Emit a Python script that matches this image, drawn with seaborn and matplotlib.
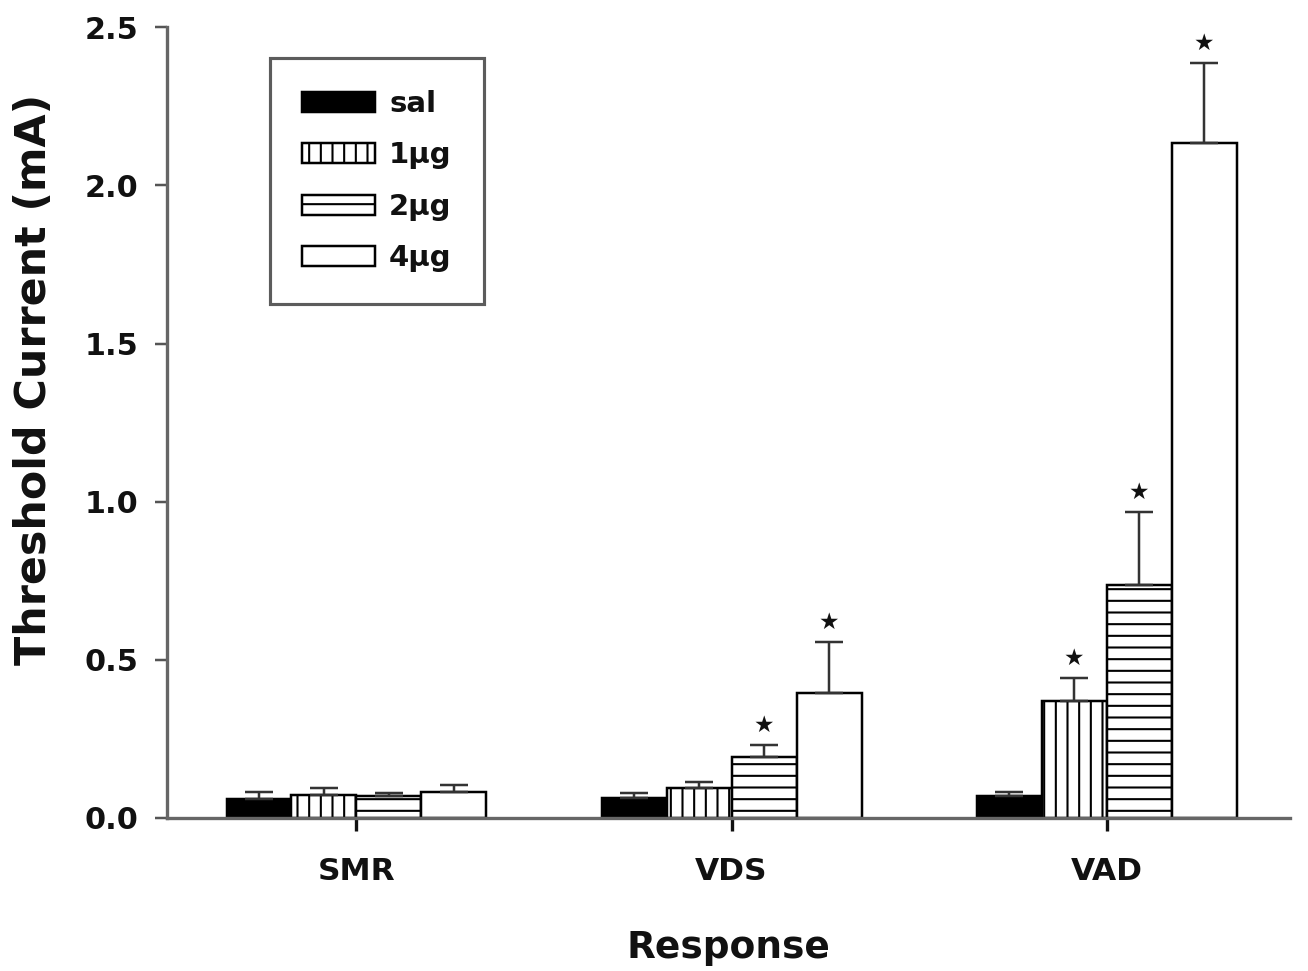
import matplotlib
matplotlib.use("Agg")
import matplotlib.pyplot as plt
import seaborn as sns
import pandas as pd
from matplotlib.ticker import FormatStrFormatter

responses = ["SMR", "VDS", "VAD"]
doses = ["sal", "1µg", "2µg", "4µg"]
sal = [0.060, 0.063, 0.070]
ug1 = [0.073, 0.095, 0.370]
ug2 = [0.068, 0.193, 0.735]
ug4 = [0.082, 0.395, 2.133]
sem_sal = [0.022, 0.017, 0.012]
sem_ug1 = [0.022, 0.020, 0.073]
sem_ug2 = [0.012, 0.037, 0.232]
sem_ug4 = [0.022, 0.161, 0.253]
sig_sal = [False, False, False]
sig_ug1 = [False, False, True]
sig_ug2 = [False, True, True]
sig_ug4 = [False, True, True]

means = [sal, ug1, ug2, ug4]
sems = [sem_sal, sem_ug1, sem_ug2, sem_ug4]
sigs = [sig_sal, sig_ug1, sig_ug2, sig_ug4]

rows = []
for d, vals in zip(doses, means):
    for r, v in zip(responses, vals):
        rows.append({"Response": r, "Dose": d, "value": v})
df = pd.DataFrame(rows)

DPI = 140
K = 150 / DPI  # keep pixel sizes tuned at 150 dpi

sns.set_style("white")
plt.rcParams["font.family"] = ["DejaVu Sans"]
plt.rcParams["font.weight"] = "bold"
plt.rcParams["hatch.linewidth"] = 1.0 * K
plt.rcParams["text.color"] = "#111111"
plt.rcParams["axes.labelcolor"] = "#111111"
plt.rcParams["xtick.labelcolor"] = "#111111"
plt.rcParams["ytick.labelcolor"] = "#111111"

fig = plt.figure(figsize=(1308 / DPI, 971 / DPI), dpi=DPI)
ax = fig.add_axes([0.128, 0.1576, 0.858, 0.8144])

fills = ["black", "white", "white", "white"]
hatches = [None, "||", "--", None]
sns.barplot(data=df, x="Response", y="value", hue="Dose", order=responses,
            hue_order=doses, palette=fills, width=0.693, gap=0,
            edgecolor="black", linewidth=1.2 * K, errorbar=None, ax=ax,
            legend=False, saturation=1)

bar_containers = list(ax.containers)
for cont, h, sd, sg in zip(bar_containers, hatches, sems, sigs):
    for p, e, s in zip(cont.patches, sd, sg):
        if h:
            p.set_hatch(h)
        xc = p.get_x() + p.get_width() / 2
        top = p.get_height()
        ax.errorbar([xc], [top], yerr=[[0], [e]], fmt="none", ecolor="#333333",
                    elinewidth=1.2 * K, capsize=6.5 * K, capthick=1.2 * K, zorder=1)
        if s:
            ax.annotate("★", xy=(xc, top + e), xytext=(0, 9.5 * K), textcoords="offset points",
                        ha="center", va="center", fontsize=11 * K,
                        color="#111111")

leg = ax.legend(handles=[c.patches[0] for c in bar_containers], labels=doses,
                loc="upper left", bbox_to_anchor=(0.091, 0.961), fontsize=14 * K,
                frameon=True, fancybox=False, edgecolor="#333333",
                handlelength=2.5, handleheight=0.68, handletextpad=0.5,
                labelspacing=0.8, borderpad=1.1, borderaxespad=0)
leg.get_frame().set_linewidth(1.5 * K)
for t in leg.get_texts():
    t.set_fontweight("bold")
    t.set_color("#111111")

ax.set_ylim(0, 2.5)
ax.set_xlim(-0.504, 2.488)
ax.set_yticks([0, 0.5, 1.0, 1.5, 2.0, 2.5])
ax.yaxis.set_major_formatter(FormatStrFormatter("%.1f"))
ax.set_ylabel("Threshold Current (mA)", fontsize=20.5 * K, fontweight="bold")
ax.yaxis.set_label_coords(-0.100, 0.554)
ax.set_xlabel("Response", fontsize=18 * K, fontweight="bold", labelpad=21 * K)

for side in ["top", "right"]:
    ax.spines[side].set_visible(False)
for side in ["left", "bottom"]:
    ax.spines[side].set_color("#666666")
    ax.spines[side].set_linewidth(1.6 * K)

ax.tick_params(axis="y", which="major", direction="out", length=6 * K, width=1.2 * K,
               color="#555555", left=True, labelsize=14.5 * K, pad=8 * K)
ax.tick_params(axis="x", which="major", direction="out", length=6 * K, width=1.6 * K,
               color="#111111", bottom=True, labelsize=15 * K, pad=12.5 * K)
for lbl in ax.get_xticklabels() + ax.get_yticklabels():
    lbl.set_fontweight("bold")

fig.savefig("out.png", dpi=DPI, facecolor="white")
